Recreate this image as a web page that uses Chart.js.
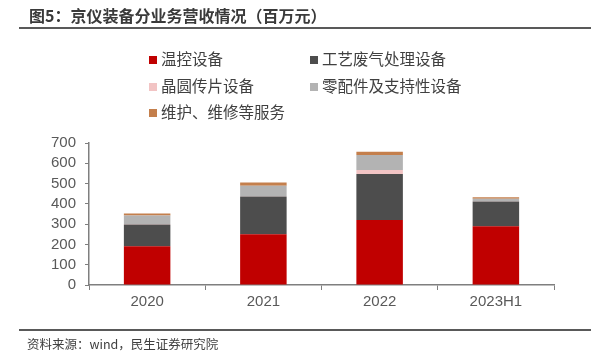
<!DOCTYPE html>
<html>
<head>
<meta charset="utf-8">
<script src="https://cdn.jsdelivr.net/npm/chart.js@4"></script>
<style>
    body { margin: 0; background: #fff; }
    #wrap { position: relative; width: 601px; height: 354px; overflow: hidden; font-family: "Noto Sans CJK SC", sans-serif; color: #404040; }
    #chart { position: absolute; left: 0; top: 0; }
    #title { position: absolute; left: 29px; top: 4px; font-size: 16px; font-weight: bold; line-height: 22px; white-space: nowrap; color: #3a3a3a; }
    .rule { position: absolute; left: 19px; width: 572px; height: 2px; background: #595959; }
    .item { position: absolute; font-size: 15.5px; line-height: 20px; white-space: nowrap; }
    .item i { display: inline-block; width: 8px; height: 8px; margin-right: 4px; vertical-align: 1px; }
    #source { position: absolute; left: 27px; top: 335px; font-size: 12.5px; line-height: 18px; white-space: nowrap; }
</style>
</head>
<body>
<div id="wrap">
    <canvas id="chart" width="601" height="354"></canvas>
    <div id="title">图5：京仪装备分业务营收情况（百万元）</div>
    <div class="rule" style="top:27px"></div>
    <div id="legend"></div>
    <div class="rule" style="top:329px"></div>
    <div id="source">资料来源：wind，民生证券研究院</div>
</div>
<script>
// 百万元
var years = ['2020', '2021', '2022', '2023H1'];
var tempControl = [191, 250, 320, 290];   // 温控设备
var exhaustGas = [107, 186, 227, 122];    // 工艺废气处理设备
var waferHandling = [3, 1, 20, 1];        // 晶圆传片设备
var parts = [41, 52, 74, 12];             // 零配件及支持性设备
var service = [10, 16, 16, 8];            // 维护、维修等服务
var yTicks = [0, 100, 200, 300, 400, 500, 600, 700];

var axisColor = '#7f7f7f';
var tickFont = { family: '"Liberation Sans", Arial, sans-serif', size: 15 };

var ctx = document.getElementById('chart').getContext('2d');
var chart = new Chart(ctx, {
    type: 'bar',
    data: {
        labels: years,
        datasets: [
            { label: '温控设备', data: tempControl, backgroundColor: '#c00000' },
            { label: '工艺废气处理设备', data: exhaustGas, backgroundColor: '#4d4d4d' },
            { label: '晶圆传片设备', data: waferHandling, backgroundColor: '#f2c4c4' },
            { label: '零配件及支持性设备', data: parts, backgroundColor: '#b3b3b3' },
            { label: '维护、维修等服务', data: service, backgroundColor: '#c47f4c' }
        ]
    },
    options: {
        responsive: false,
        animation: false,
        datasets: { bar: { categoryPercentage: 1, barPercentage: 0.4 } },
        layout: { padding: { left: 0, right: 47, top: 143, bottom: 29 } },
        plugins: { legend: { display: false }, tooltip: { enabled: false } },
        scales: {
            x: {
                stacked: true,
                afterFit: function (s) { s.height = 40; },
                grid: { drawOnChartArea: false, tickLength: 5, color: axisColor, offset: true },
                border: { color: axisColor, width: 1.5 },
                ticks: { color: '#595959', font: tickFont, padding: 3 }
            },
            y: {
                stacked: true,
                min: 0,
                max: 700,
                afterFit: function (s) { s.width = 89; },
                afterBuildTicks: function (s) { s.ticks = yTicks.map(function (v) { return { value: v }; }); },
                grid: { drawOnChartArea: false, tickLength: 4, color: axisColor },
                border: { color: axisColor, width: 1.5 },
                ticks: { color: '#595959', font: tickFont, padding: 9, autoSkip: false }
            }
        }
    }
});

// legend, two columns
var legendX = [149, 310];
var legendY = [48, 75, 101];
var legendEl = document.getElementById('legend');
chart.data.datasets.forEach(function (ds, i) {
    var el = document.createElement('div');
    el.className = 'item';
    el.style.left = legendX[i % 2] + 'px';
    el.style.top = legendY[Math.floor(i / 2)] + 'px';
    el.innerHTML = '<i style="background:' + ds.backgroundColor + '"></i>' + ds.label;
    legendEl.appendChild(el);
});
</script>
</body>
</html>
